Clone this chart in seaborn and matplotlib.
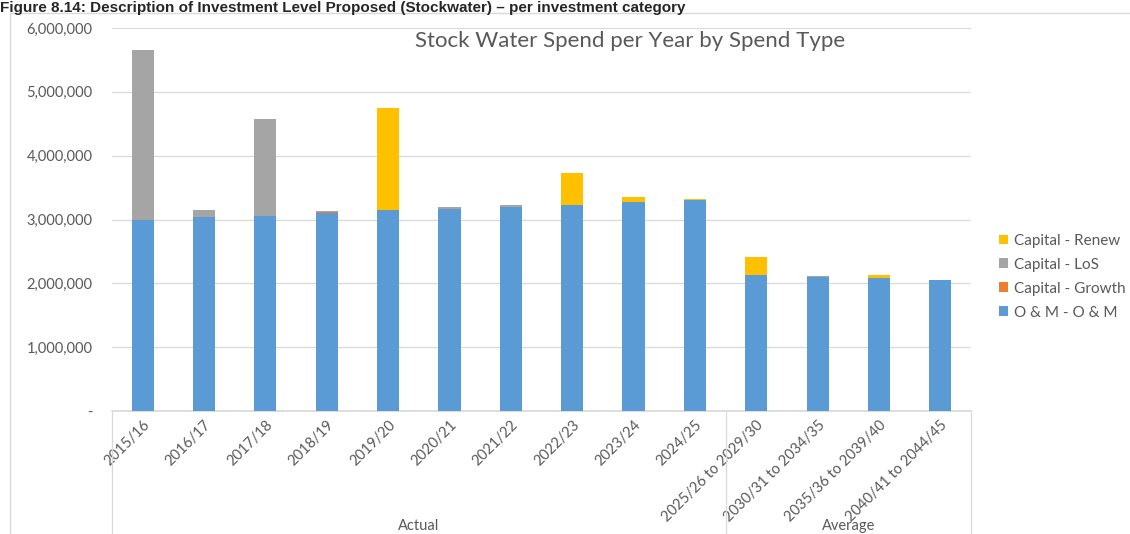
import numpy as np
import pandas as pd
import matplotlib.pyplot as plt
import seaborn as sns
from matplotlib.lines import Line2D
from matplotlib.patches import Patch
from matplotlib.ticker import FuncFormatter

# categories and spend per type
periods = ['2015/16', '2016/17', '2017/18', '2018/19', '2019/20', '2020/21',
           '2021/22', '2022/23', '2023/24', '2024/25',
           '2025/26 to 2029/30', '2030/31 to 2034/35',
           '2035/36 to 2039/40', '2040/41 to 2044/45']
om = [2990000, 3040000, 3060000, 3100000, 3150000, 3170000, 3190000,
      3230000, 3280000, 3300000, 2130000, 2100000, 2090000, 2050000]
growth = [0, 0, 0, 10000, 0, 0, 0, 0, 0, 0, 0, 0, 0, 0]
los = [2670000, 110000, 1520000, 30000, 0, 30000, 30000, 0, 0, 0, 0, 10000, 0, 0]
renew = [0, 0, 0, 0, 1600000, 0, 0, 500000, 80000, 20000, 280000, 0, 40000, 0]
groups = ['Actual', 'Average']
group_sizes = [10, 4]

colors = {'O & M - O & M': '#5B9BD5', 'Capital - Growth': '#ED7D31',
          'Capital - LoS': '#A5A5A5', 'Capital - Renew': '#FFC000'}
text_col = '#595959'
grid_col = '#D9D9D9'

df = pd.DataFrame({'period': periods, 'om': om, 'growth': growth,
                   'los': los, 'renew': renew})
df['c_om'] = df['om']
df['c_growth'] = df['c_om'] + df['growth']
df['c_los'] = df['c_growth'] + df['los']
df['c_renew'] = df['c_los'] + df['renew']

sns.set_theme(style='white')
plt.rcParams['font.family'] = ['Lato', 'DejaVu Sans']

fig = plt.figure(figsize=(11.3, 5.34), dpi=100)
W, H = 1130, 534
ax = fig.add_axes([112 / W, 1 - 411 / H, (971 - 112) / W, (411 - 28) / H])

# stacked bars: draw cumulative totals from top layer down
layers = [('c_renew', 'Capital - Renew'), ('c_los', 'Capital - LoS'),
          ('c_growth', 'Capital - Growth'), ('c_om', 'O & M - O & M')]
for col, name in layers:
    sns.barplot(data=df, x='period', y=col, color=colors[name], width=0.36,
                saturation=1, edgecolor='none', linewidth=0, ax=ax, zorder=3)

ax.set_ylim(0, 6000000)
ax.set_xlim(-0.5, len(periods) - 0.5)
ax.set_yticks(np.arange(0, 6000001, 1000000))
ax.yaxis.set_major_formatter(FuncFormatter(lambda v, p: '-' if v == 0 else f'{int(v):,}'))
ax.grid(axis='y', color=grid_col, linewidth=0.9, zorder=0)
ax.set_axisbelow(True)
for s in ['top', 'right', 'left']:
    ax.spines[s].set_visible(False)
ax.spines['bottom'].set_color(grid_col)
ax.set_xlabel('')
ax.set_ylabel('')
ax.tick_params(axis='y', length=0, pad=14, labelsize=10.5, labelcolor=text_col)
ax.tick_params(axis='x', length=0, pad=5, labelsize=10.5, labelcolor=text_col)
plt.setp(ax.get_xticklabels(), rotation=45, ha='right', rotation_mode='anchor')

ax.text(0.603, 0.965, 'Stock Water Spend per Year by Spend Type', color=text_col,
        fontsize=16, ha='center', va='center', transform=ax.transAxes)

# group separators and labels below the axis
edges = np.concatenate([[0], np.cumsum(group_sizes)]) - 0.5
for e in edges:
    ax.add_line(Line2D([e, e], [0, -0.34], transform=ax.get_xaxis_transform(),
                       color=grid_col, linewidth=0.9, clip_on=False))
for g, a, b in zip(groups, edges[:-1], edges[1:]):
    ax.text((a + b) / 2, -0.3, g, transform=ax.get_xaxis_transform(),
            ha='center', va='center', fontsize=10.5, color=text_col)

handles = [Patch(facecolor=colors[n], edgecolor='none') for _, n in layers]
fig.legend(handles, [n for _, n in layers], loc='upper left',
           bbox_to_anchor=(985 / W, 1 - 220 / H), frameon=False,
           fontsize=11, labelcolor=text_col, handlelength=0.6,
           handleheight=0.6, handletextpad=0.4, labelspacing=0.65)

# chart frame and page caption
fig.add_artist(Line2D([10 / W, 1], [1 - 13 / H, 1 - 13 / H], color=grid_col, linewidth=1))
fig.add_artist(Line2D([10 / W, 10 / W], [0, 1 - 13 / H], color=grid_col, linewidth=1))
fig.text(0.0, 1 - 1 / H, 'Figure 8.14: Description of Investment Level Proposed '
         '(Stockwater) \u2013 per investment category', fontsize=11,
         fontweight='bold', family='Liberation Sans', va='top', ha='left')

fig.savefig('out.png', dpi=100)
